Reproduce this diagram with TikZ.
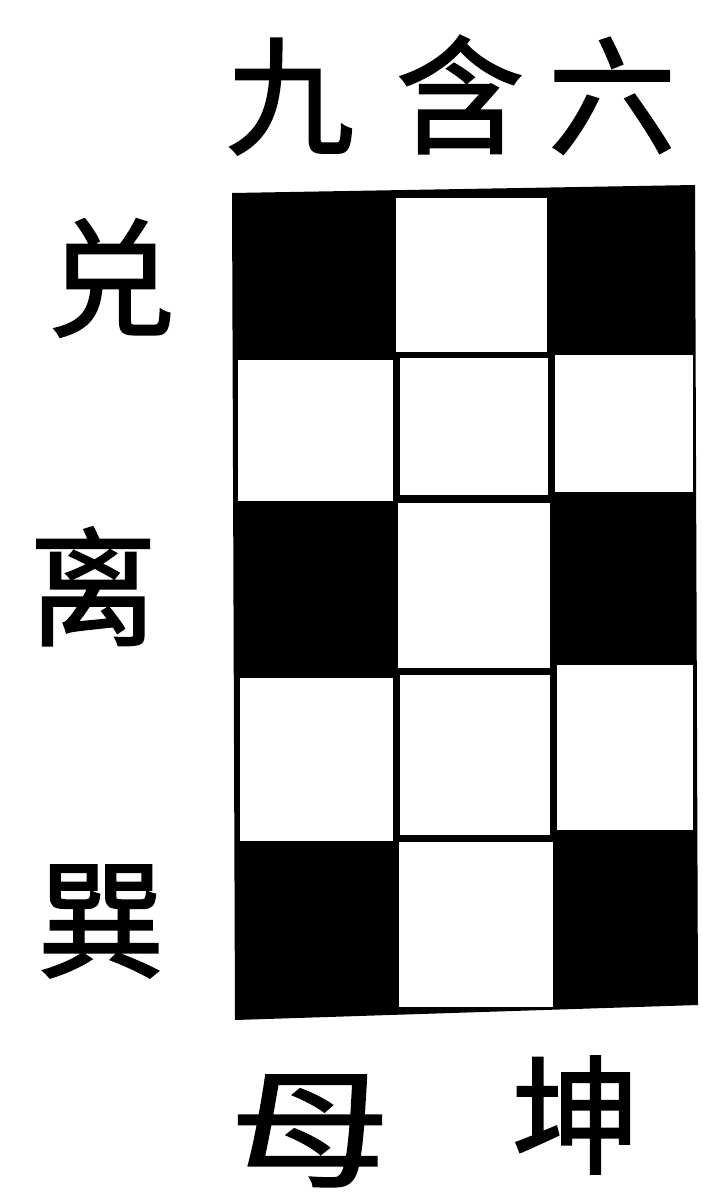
\documentclass[tikz,border=0pt]{standalone}
\usepackage{fontspec}
\newfontfamily\cjk{Noto Sans CJK SC}[FakeBold=1.6]
\begin{document}
\begin{tikzpicture}[x=1pt,y=-1pt,
  glyph/.style={inner sep=0pt,font=\cjk\fontsize{128pt}{128pt}\selectfont,text height=106pt,text depth=9pt},
  cellw/.style={fill=white}]
\useasboundingbox[fill=white] (0,0) rectangle (702,1196);
% outer black board
\fill[black] (232,193) -- (695,185) -- (698,1005) -- (235,1020) -- cycle;
% row 1
\fill[cellw] (396,198) rectangle (547,352);
% row 2
\fill[cellw] (238,360) rectangle (393,501);
\fill[cellw] (400,358) rectangle (548,495);
\fill[cellw] (555,355) rectangle (693,492);
% row 3
\fill[cellw] (398,503) rectangle (550,668);
% row 4
\fill[cellw] (240,678) rectangle (393,841);
\fill[cellw] (400,675) rectangle (550,835);
\fill[cellw] (557,665) rectangle (693,830);
% row 5
\fill[cellw] (399,842) rectangle (553,1007);
% labels
\node[glyph] (t1) at (290,96) {九};
\node[glyph] (t2) at (460,95) {含};
\node[glyph] (t3) at (612,96) {六};
\node[glyph] (l1) at (111,278) {兑};
\node[glyph] (l2) at (93,587) {离};
\node[glyph] (l3) at (101,919) {巽};
\node[glyph,xscale=1.25] (b1) at (310,1128) {母};
\node[glyph] (b2) at (576,1115) {坤};
\end{tikzpicture}
\end{document}
